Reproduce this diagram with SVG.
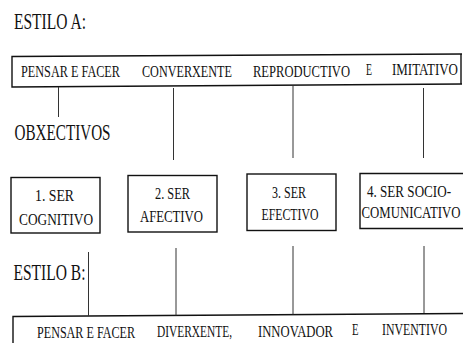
<svg xmlns="http://www.w3.org/2000/svg" width="463" height="343" viewBox="0 0 463 343">
<style>
text{fill:#111;font-family:"Liberation Serif","DejaVu Serif","Times New Roman",serif}
.h{font-size:23px}
.t{font-size:16.5px}
.b{font-size:17px}
.m{text-anchor:middle}
.bar,.box{fill:none;stroke:#111;stroke-width:1.4}
.ln{fill:none;stroke:#333;stroke-width:1}
</style>
<rect width="463" height="343" fill="#fff"/>
<g id="title-a"><text class="h" transform="translate(14,28.5) scale(0.667,1)" textLength="108" lengthAdjust="spacingAndGlyphs">ESTILO A:</text></g>
<g id="style-a">
<path class="bar" d="M462,54 L12,56.5 L12,87 L462,84"/>
<path class="bar" d="M461,54 L461,84"/>
<text class="t" transform="translate(21,77) scale(0.75,1)" textLength="132" lengthAdjust="spacingAndGlyphs">PENSAR E FACER</text>
<text class="t" transform="translate(142,77.3) scale(0.75,1)" textLength="120" lengthAdjust="spacingAndGlyphs">CONVERXENTE</text>
<text class="t" transform="translate(253,76.5) scale(0.75,1)" textLength="129.3" lengthAdjust="spacingAndGlyphs">REPRODUCTIVO</text>
<text class="t" transform="translate(366,75) scale(0.75,1)" textLength="8" lengthAdjust="spacingAndGlyphs">E</text>
<text class="t" transform="translate(392,74.5) scale(0.75,1)" textLength="88" lengthAdjust="spacingAndGlyphs">IMITATIVO</text>
</g>
<g id="obxectivos"><text class="h" transform="translate(14.5,139.5) scale(0.667,1)" textLength="144" lengthAdjust="spacingAndGlyphs">OBXECTIVOS</text></g>
<g id="box1">
<rect class="box" x="11" y="177.5" width="89" height="55.5"/>
<text class="b m" transform="translate(54.5,200.5) scale(0.78,1)" textLength="50" lengthAdjust="spacingAndGlyphs">1. SER</text>
<text class="b m" transform="translate(56,224.5) scale(0.78,1)" textLength="94.9" lengthAdjust="spacingAndGlyphs">COGNITIVO</text>
</g>
<g id="box2">
<rect class="box" x="128" y="175.5" width="89" height="56.5"/>
<text class="b m" transform="translate(172.5,199) scale(0.78,1)" textLength="44.9" lengthAdjust="spacingAndGlyphs">2. SER</text>
<text class="b m" transform="translate(171.5,221.5) scale(0.78,1)" textLength="80.8" lengthAdjust="spacingAndGlyphs">AFECTIVO</text>
</g>
<g id="box3">
<rect class="box" x="247" y="174" width="89" height="56.5"/>
<text class="b m" transform="translate(289,197.5) scale(0.78,1)" textLength="43.6" lengthAdjust="spacingAndGlyphs">3. SER</text>
<text class="b m" transform="translate(290,220) scale(0.78,1)" textLength="73.1" lengthAdjust="spacingAndGlyphs">EFECTIVO</text>
</g>
<g id="box4">
<path class="box" d="M463,173.5 L360,173.5 L360,228.5 L463,228.5"/>
<text class="b m" transform="translate(409,196.5) scale(0.78,1)" textLength="107.7" lengthAdjust="spacingAndGlyphs">4. SER SOCIO-</text>
<text class="b m" transform="translate(411,218) scale(0.78,1)" textLength="126.9" lengthAdjust="spacingAndGlyphs">COMUNICATIVO</text>
</g>
<g id="title-b"><text class="h" transform="translate(13.5,280) scale(0.667,1)" textLength="108" lengthAdjust="spacingAndGlyphs">ESTILO B:</text></g>
<g id="style-b">
<path class="bar" d="M13,343 L13,316.5 L463,313.5"/>
<text class="t" transform="translate(37,338) scale(0.75,1)" textLength="130.7" lengthAdjust="spacingAndGlyphs">PENSAR E FACER</text>
<text class="t" transform="translate(157,337) scale(0.75,1)" textLength="100" lengthAdjust="spacingAndGlyphs">DIVERXENTE,</text>
<text class="t" transform="translate(258,336.5) scale(0.75,1)" textLength="100" lengthAdjust="spacingAndGlyphs">INNOVADOR</text>
<text class="t" transform="translate(352,335) scale(0.75,1)" textLength="8.7" lengthAdjust="spacingAndGlyphs">E</text>
<text class="t" transform="translate(382,334.5) scale(0.75,1)" textLength="86.7" lengthAdjust="spacingAndGlyphs">INVENTIVO</text>
</g>
<g id="connectors">
<path class="ln" d="M58.5,87 V117"/>
<path class="ln" d="M173.5,88 V160"/>
<path class="ln" d="M293,86 V158"/>
<path class="ln" d="M423.5,88 V158"/>
<path class="ln" d="M88.5,252 V316"/>
<path class="ln" d="M176,248 V315.5"/>
<path class="ln" d="M293,246 V314.5"/>
<path class="ln" d="M424,246 V313"/>
</g>
</svg>
